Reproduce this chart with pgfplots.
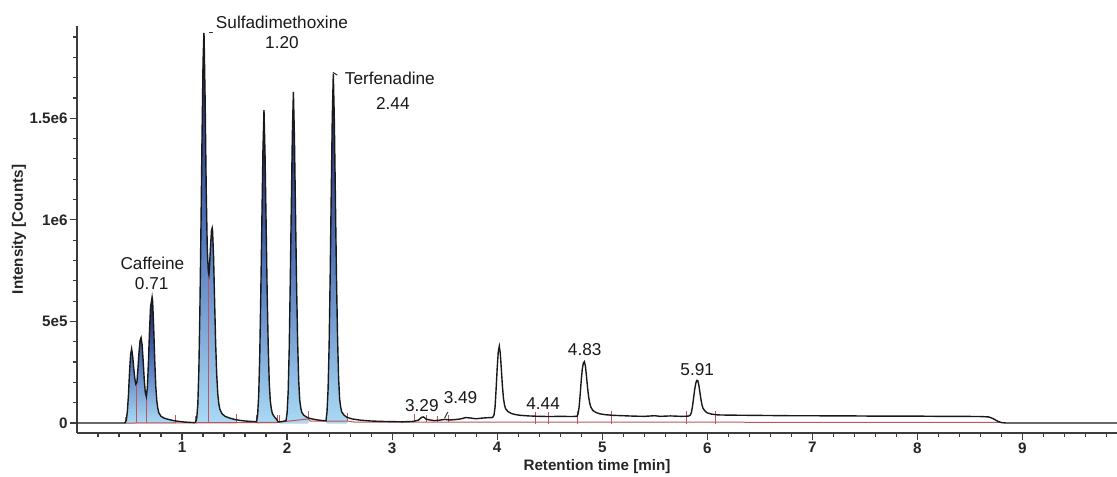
\documentclass[border=0pt]{standalone}
\usepackage{fontspec}
\setmainfont{Liberation Sans}
\usepackage{pgfplots}
\pgfplotsset{compat=1.18}
\usepgfplotslibrary{fillbetween}
\usepackage{pgfplotstable}
\definecolor{axgray}{RGB}{60,60,60}
\definecolor{intred}{RGB}{190,85,92}
\definecolor{pktop}{RGB}{25,25,88}
\definecolor{pkmid}{RGB}{80,115,185}
\definecolor{pkbot}{RGB}{170,218,245}

\pgfplotstableread{
x y
0 0
0.44 0
0.45 500
0.46 3000
0.47 15000
0.48 60000
0.49 140000
0.50 250000
0.51 335000
0.52 365000
0.53 330000
0.54 270000
0.55 220000
0.56 192000
0.57 200000
0.58 265000
0.59 345000
0.60 405000
0.61 420000
0.62 385000
0.63 305000
0.64 215000
0.65 150000
0.66 130000
0.67 175000
0.68 300000
0.69 450000
0.70 570000
0.715 620000
0.72 600000
0.73 470000
0.74 310000
0.75 180000
0.76 108000
0.77 70000
0.78 49000
0.80 33000
0.83 24000
0.87 18000
0.92 12000
0.97 8000
1.02 5000
1.08 3000
1.12 2000
1.13 5000
1.14 25000
1.15 90000
1.16 260000
1.17 560000
1.18 960000
1.19 1400000
1.20 1780000
1.208 1920000
1.21 1900000
1.22 1580000
1.23 1150000
1.24 860000
1.25 745000
1.256 730000
1.26 755000
1.27 860000
1.28 945000
1.287 960000
1.29 950000
1.30 820000
1.31 600000
1.32 390000
1.33 240000
1.34 145000
1.35 95000
1.36 68000
1.38 46000
1.41 33000
1.45 25000
1.50 18000
1.55 13000
1.60 10000
1.65 8000
1.71 7000
1.72 45000
1.73 140000
1.74 340000
1.75 650000
1.76 1000000
1.77 1340000
1.78 1540000
1.79 1320000
1.80 990000
1.81 650000
1.82 385000
1.83 200000
1.84 110000
1.85 70000
1.86 46000
1.88 30000
1.90 18000
1.915 6000
1.93 6000
1.96 8000
1.99 12000
2.00 50000
2.01 150000
2.02 360000
2.03 690000
2.04 1060000
2.05 1420000
2.06 1630000
2.07 1400000
2.08 1040000
2.09 690000
2.10 410000
2.11 215000
2.12 115000
2.13 75000
2.14 52000
2.16 38000
2.19 28000
2.22 22000
2.28 16000
2.34 12000
2.37 11000
2.38 55000
2.39 165000
2.40 380000
2.41 720000
2.42 1120000
2.43 1500000
2.44 1720000
2.45 1480000
2.46 1100000
2.47 720000
2.48 430000
2.49 225000
2.50 120000
2.51 78000
2.52 55000
2.54 40000
2.57 28000
2.62 20000
2.70 14000
2.80 10000
2.90 8000
3.00 7000
3.10 6000
3.20 8000
3.25 14000
3.28 28000
3.30 30000
3.32 20000
3.35 16000
3.40 12000
3.45 14000
3.50 18000
3.55 15000
3.60 17000
3.65 20000
3.70 27000
3.74 25000
3.80 21000
3.85 24000
3.90 26000
3.95 27000
3.96 30000
3.97 40000
3.98 80000
3.99 170000
4.00 270000
4.01 350000
4.02 378000
4.03 340000
4.04 260000
4.05 180000
4.06 120000
4.07 88000
4.08 70000
4.10 58000
4.13 48000
4.17 42000
4.22 38000
4.30 35000
4.40 33000
4.50 32000
4.60 33000
4.70 32000
4.76 33000
4.77 45000
4.78 80000
4.79 140000
4.80 210000
4.81 265000
4.82 295000
4.83 302000
4.84 280000
4.85 230000
4.86 175000
4.87 130000
4.88 100000
4.89 80000
4.91 62000
4.94 52000
4.98 45000
5.03 41000
5.10 38000
5.20 36000
5.30 34000
5.40 33000
5.50 36000
5.55 33000
5.65 35000
5.75 33000
5.82 34000
5.84 40000
5.85 55000
5.86 85000
5.87 125000
5.88 165000
5.89 195000
5.90 210000
5.91 208000
5.92 185000
5.93 150000
5.94 115000
5.95 88000
5.96 72000
5.98 58000
6.00 50000
6.04 44000
6.10 40000
6.20 39000
6.40 38000
6.60 37000
6.80 36000
7.00 36000
7.20 35000
7.40 35000
7.60 34000
7.80 34000
8.00 34000
8.20 33000
8.40 33000
8.60 32000
8.68 30000
8.72 22000
8.76 10000
8.80 2000
8.85 0
9.90 0
}\trace

\begin{document}
\begin{tikzpicture}
\begin{axis}[
  at={(0,0)}, anchor=south west,
  scale only axis, width=520pt, height=203.5pt,
  xmin=0, xmax=9.9, ymin=-49000, ymax=1954000,
  axis lines*=left,
  axis line style={line width=1pt, axgray},
  tick align=outside,
  major tick length=3.5pt, minor tick length=2pt,
  tick style={line width=0.6pt, axgray},
  xtick={1,2,3,4,5,6,7,8,9}, xticklabels={1,2,3,4,5,6,7,8,9},
  minor xtick={0.2,0.4,0.6,0.8,1.2,1.4,1.6,1.8,2.2,2.4,2.6,2.8,3.2,3.4,3.6,3.8,4.2,4.4,4.6,4.8,5.2,5.4,5.6,5.8,6.2,6.4,6.6,6.8,7.2,7.4,7.6,7.8,8.2,8.4,8.6,8.8,9.2,9.4,9.6,9.8},
  ytick={0,500000,1000000,1500000}, yticklabels={0,5e5,1e6,1.5e6},
  minor ytick={100000,200000,300000,400000,600000,700000,800000,900000,1100000,1200000,1300000,1400000,1600000,1700000,1800000,1900000},
  scaled y ticks=false,
  ticklabel style={font=\fontsize{7.6}{9}\selectfont\bfseries, text=black!85},
  xticklabel style={inner sep=1pt},
  yticklabel style={inner sep=1pt},
  xlabel={Retention time [min]},
  ylabel={Intensity [Counts]},
  label style={font=\fontsize{7.6}{9}\selectfont\bfseries, text=black!85},
  xlabel style={at={(axis description cs:0.5,-0.0835)}, anchor=center},
  ylabel style={at={(axis description cs:-0.0558,0.5)}, anchor=center},
  clip=false,
]
\addplot[draw=none, name path=trace, forget plot] table[x=x,y=y] {\trace};
\addplot[draw=none, name path=base, forget plot] coordinates {(0,0) (9.9,0)};

\addplot[top color=pktop, bottom color=pkbot, middle color=pkmid, draw=none] fill between[of=trace and base, soft clip={domain=0.457:0.942}];
\addplot[top color=pktop, bottom color=pkbot, middle color=pkmid, draw=none] fill between[of=trace and base, soft clip={domain=1.132:1.52}];
\addplot[top color=pktop, bottom color=pkbot, middle color=pkmid, draw=none] fill between[of=trace and base, soft clip={domain=1.71:1.91}];
\addplot[top color=pktop, bottom color=pkbot, middle color=pkmid, draw=none] fill between[of=trace and base, soft clip={domain=1.93:2.20}];
\addplot[top color=pktop, bottom color=pkbot, middle color=pkmid, draw=none] fill between[of=trace and base, soft clip={domain=2.376:2.572}];

% integration baseline
\addplot[intred, line width=0.5pt] coordinates {(0.45,0) (1.90,3000) (1.93,5000) (2.20,20000) (2.22,10000) (2.37,9000) (2.57,10000) (2.65,4000) (3.20,4000) (6.10,4000) (8.80,3000)};
% peak boundary ticks and drop lines
\addplot[intred, line width=0.5pt, unbounded coords=jump] coordinates {
(0.457,0) (0.457,30000) (0.5,nan)
(0.568,0) (0.568,192000) (0.6,nan)
(0.663,0) (0.663,130000) (0.7,nan)
(0.942,0) (0.942,40000) (1.0,nan)
(1.132,0) (1.132,35000) (1.2,nan)
(1.256,0) (1.256,730000) (1.3,nan)
(1.52,2000) (1.52,45000) (1.6,nan)
(1.71,3000) (1.71,40000) (1.8,nan)
(1.905,3000) (1.905,40000) (1.91,nan)
(1.93,5000) (1.93,42000) (1.95,nan)
(2.20,18000) (2.20,60000) (2.3,nan)
(2.376,9000) (2.376,45000) (2.4,nan)
(2.572,10000) (2.572,50000) (2.6,nan)
(3.216,4000) (3.216,44000) (3.25,nan)
(3.327,4000) (3.327,40000) (3.35,nan)
(3.428,4000) (3.428,34000) (3.45,nan)
(3.54,4000) (3.54,40000) (3.6,nan)
(4.367,-5000) (4.367,55000) (4.4,nan)
(4.49,-5000) (4.49,55000) (4.5,nan)
(4.764,-5000) (4.764,60000) (4.8,nan)
(5.087,-5000) (5.087,60000) (5.1,nan)
(5.80,-5000) (5.80,60000) (5.85,nan)
(6.077,-5000) (6.077,60000)
};

% chromatogram trace
\addplot[black!90, line width=0.7pt] table[x=x,y=y] {\trace};

% annotations
\begin{scope}[every node/.style={font=\fontsize{8.6}{10}\selectfont, inner sep=0pt, anchor=base, text=black!90}]
\node at (axis cs:1.951,1941000) {Sulfadimethoxine};
\node at (axis cs:1.951,1842000) {1.20};
\node at (axis cs:2.978,1665000) {Terfenadine};
\node at (axis cs:3.007,1542000) {2.44};
\node at (axis cs:0.718,757000) {Caffeine};
\node at (axis cs:0.711,655000) {0.71};
\node at (axis cs:3.283,56000) {3.29};
\node at (axis cs:3.651,94000) {3.49};
\node at (axis cs:4.437,67000) {4.44};
\node at (axis cs:4.833,330000) {4.83};
\node at (axis cs:5.904,236000) {5.91};
\end{scope}
\draw[black!80, line width=0.5pt] (axis cs:1.259,1922000) -- (axis cs:1.297,1922000);
\draw[black!80, line width=0.5pt] (axis cs:2.436,1726000) -- (axis cs:2.478,1712000);
\draw[black!80, line width=0.5pt] (axis cs:3.50,25000) -- (axis cs:3.53,54000);
\end{axis}
\pgfresetboundingbox
\path (-38.5pt,-21.5pt) rectangle (520pt,216.5pt);
\end{tikzpicture}
\end{document}
